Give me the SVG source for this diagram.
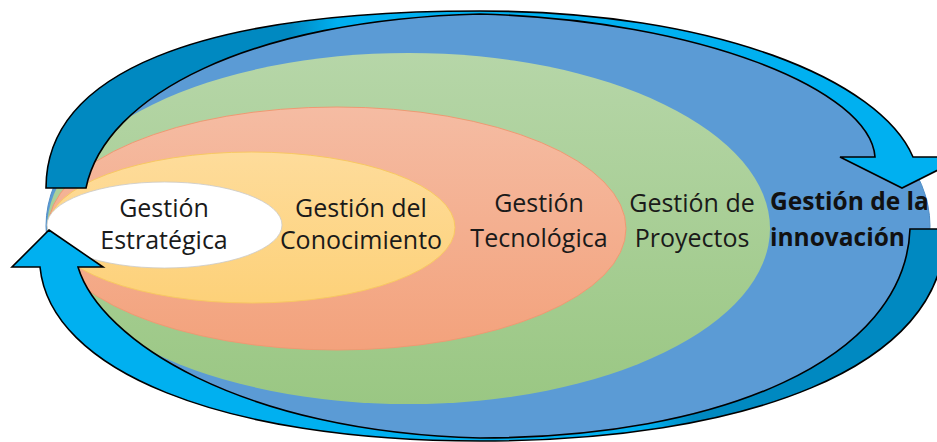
<svg xmlns="http://www.w3.org/2000/svg" width="937" height="442" viewBox="0 0 937 442">
<defs>
<style>
.lbl{font-family:"Open Sans","Noto Sans","Liberation Sans",sans-serif;font-size:25px;fill:#1a1a1a;text-anchor:middle}
.bold{font-family:"Open Sans","Noto Sans","Liberation Sans",sans-serif;font-size:24.5px;font-weight:bold;fill:#111}
.arrow{stroke:#000;stroke-width:1.6;stroke-linejoin:miter}
</style>
<linearGradient id="gGreen" x1="0" y1="0" x2="0" y2="1">
<stop offset="0" stop-color="#B6D6A8"/><stop offset="1" stop-color="#9AC783"/>
</linearGradient>
<linearGradient id="gOrange" x1="0" y1="0" x2="0" y2="1">
<stop offset="0" stop-color="#F5BCA3"/><stop offset="1" stop-color="#F3A27C"/>
</linearGradient>
<linearGradient id="gYellow" x1="0" y1="0" x2="0" y2="1">
<stop offset="0" stop-color="#FEDC9B"/><stop offset="1" stop-color="#FDD179"/>
</linearGradient>
<linearGradient id="gTop" gradientUnits="userSpaceOnUse" x1="0" y1="0" x2="937" y2="0">
<stop offset="0" stop-color="#0089C1"/><stop offset="0.31" stop-color="#0089C1"/>
<stop offset="0.36" stop-color="#00B0F0"/><stop offset="1" stop-color="#00B0F0"/>
</linearGradient>
<linearGradient id="gBot" gradientUnits="userSpaceOnUse" x1="0" y1="0" x2="937" y2="0">
<stop offset="0" stop-color="#00B0F0"/><stop offset="0.69" stop-color="#00B0F0"/>
<stop offset="0.74" stop-color="#0089C1"/><stop offset="1" stop-color="#0089C1"/>
</linearGradient>
</defs>
<rect width="937" height="442" fill="#fff"/>
<g id="innovacion">
<ellipse cx="488" cy="226" rx="442" ry="212" fill="#5B9BD5" stroke="#4F8CC4" stroke-width="1"/>
<text class="bold" x="770" y="210">Gestión de la</text>
<text class="bold" x="770" y="246">innovación</text>
</g>
<g id="proyectos">
<ellipse cx="408.5" cy="228.5" rx="361.5" ry="175.5" fill="url(#gGreen)"/>
<text class="lbl" x="692" y="212">Gestión de</text>
<text class="lbl" x="692" y="247">Proyectos</text>
</g>
<g id="tecnologica">
<ellipse cx="337" cy="228.5" rx="289" ry="121.5" fill="url(#gOrange)" stroke="#EE9A73" stroke-width="1"/>
<text class="lbl" x="539" y="212">Gestión</text>
<text class="lbl" x="539" y="247">Tecnológica</text>
</g>
<g id="conocimiento">
<ellipse cx="251.5" cy="227.5" rx="203.5" ry="75.5" fill="url(#gYellow)" stroke="#F8C862" stroke-width="1"/>
<text class="lbl" x="361" y="217">Gestión del</text>
<text class="lbl" x="361" y="249">Conocimiento</text>
</g>
<g id="estrategica">
<ellipse cx="164.5" cy="225" rx="117.5" ry="43" fill="#FFFFFF" stroke="#C9C9C9" stroke-width="0.8"/>
<text class="lbl" x="164" y="217">Gestión</text>
<text class="lbl" x="164" y="249">Estratégica</text>
</g>
<g id="connectors">
<path class="arrow" fill="url(#gTop)" d="M46,188 C46,73 198,11 480,11 C715,11 880,80 913,157 L964,157 L902,188 L840,157 L875,157 C870,90 700,20 480,14 C250,20 105,95 86,188 Z"/>
<path class="arrow" fill="url(#gBot)" d="M49,230 L103,267 L78,267 C100,340 240,432 480,438 C720,438 905,360 910,229 L945,229 C948,370 740,441 480,441 C220,441 50,370 40,267 L12,267 Z"/>
</g>
</svg>
